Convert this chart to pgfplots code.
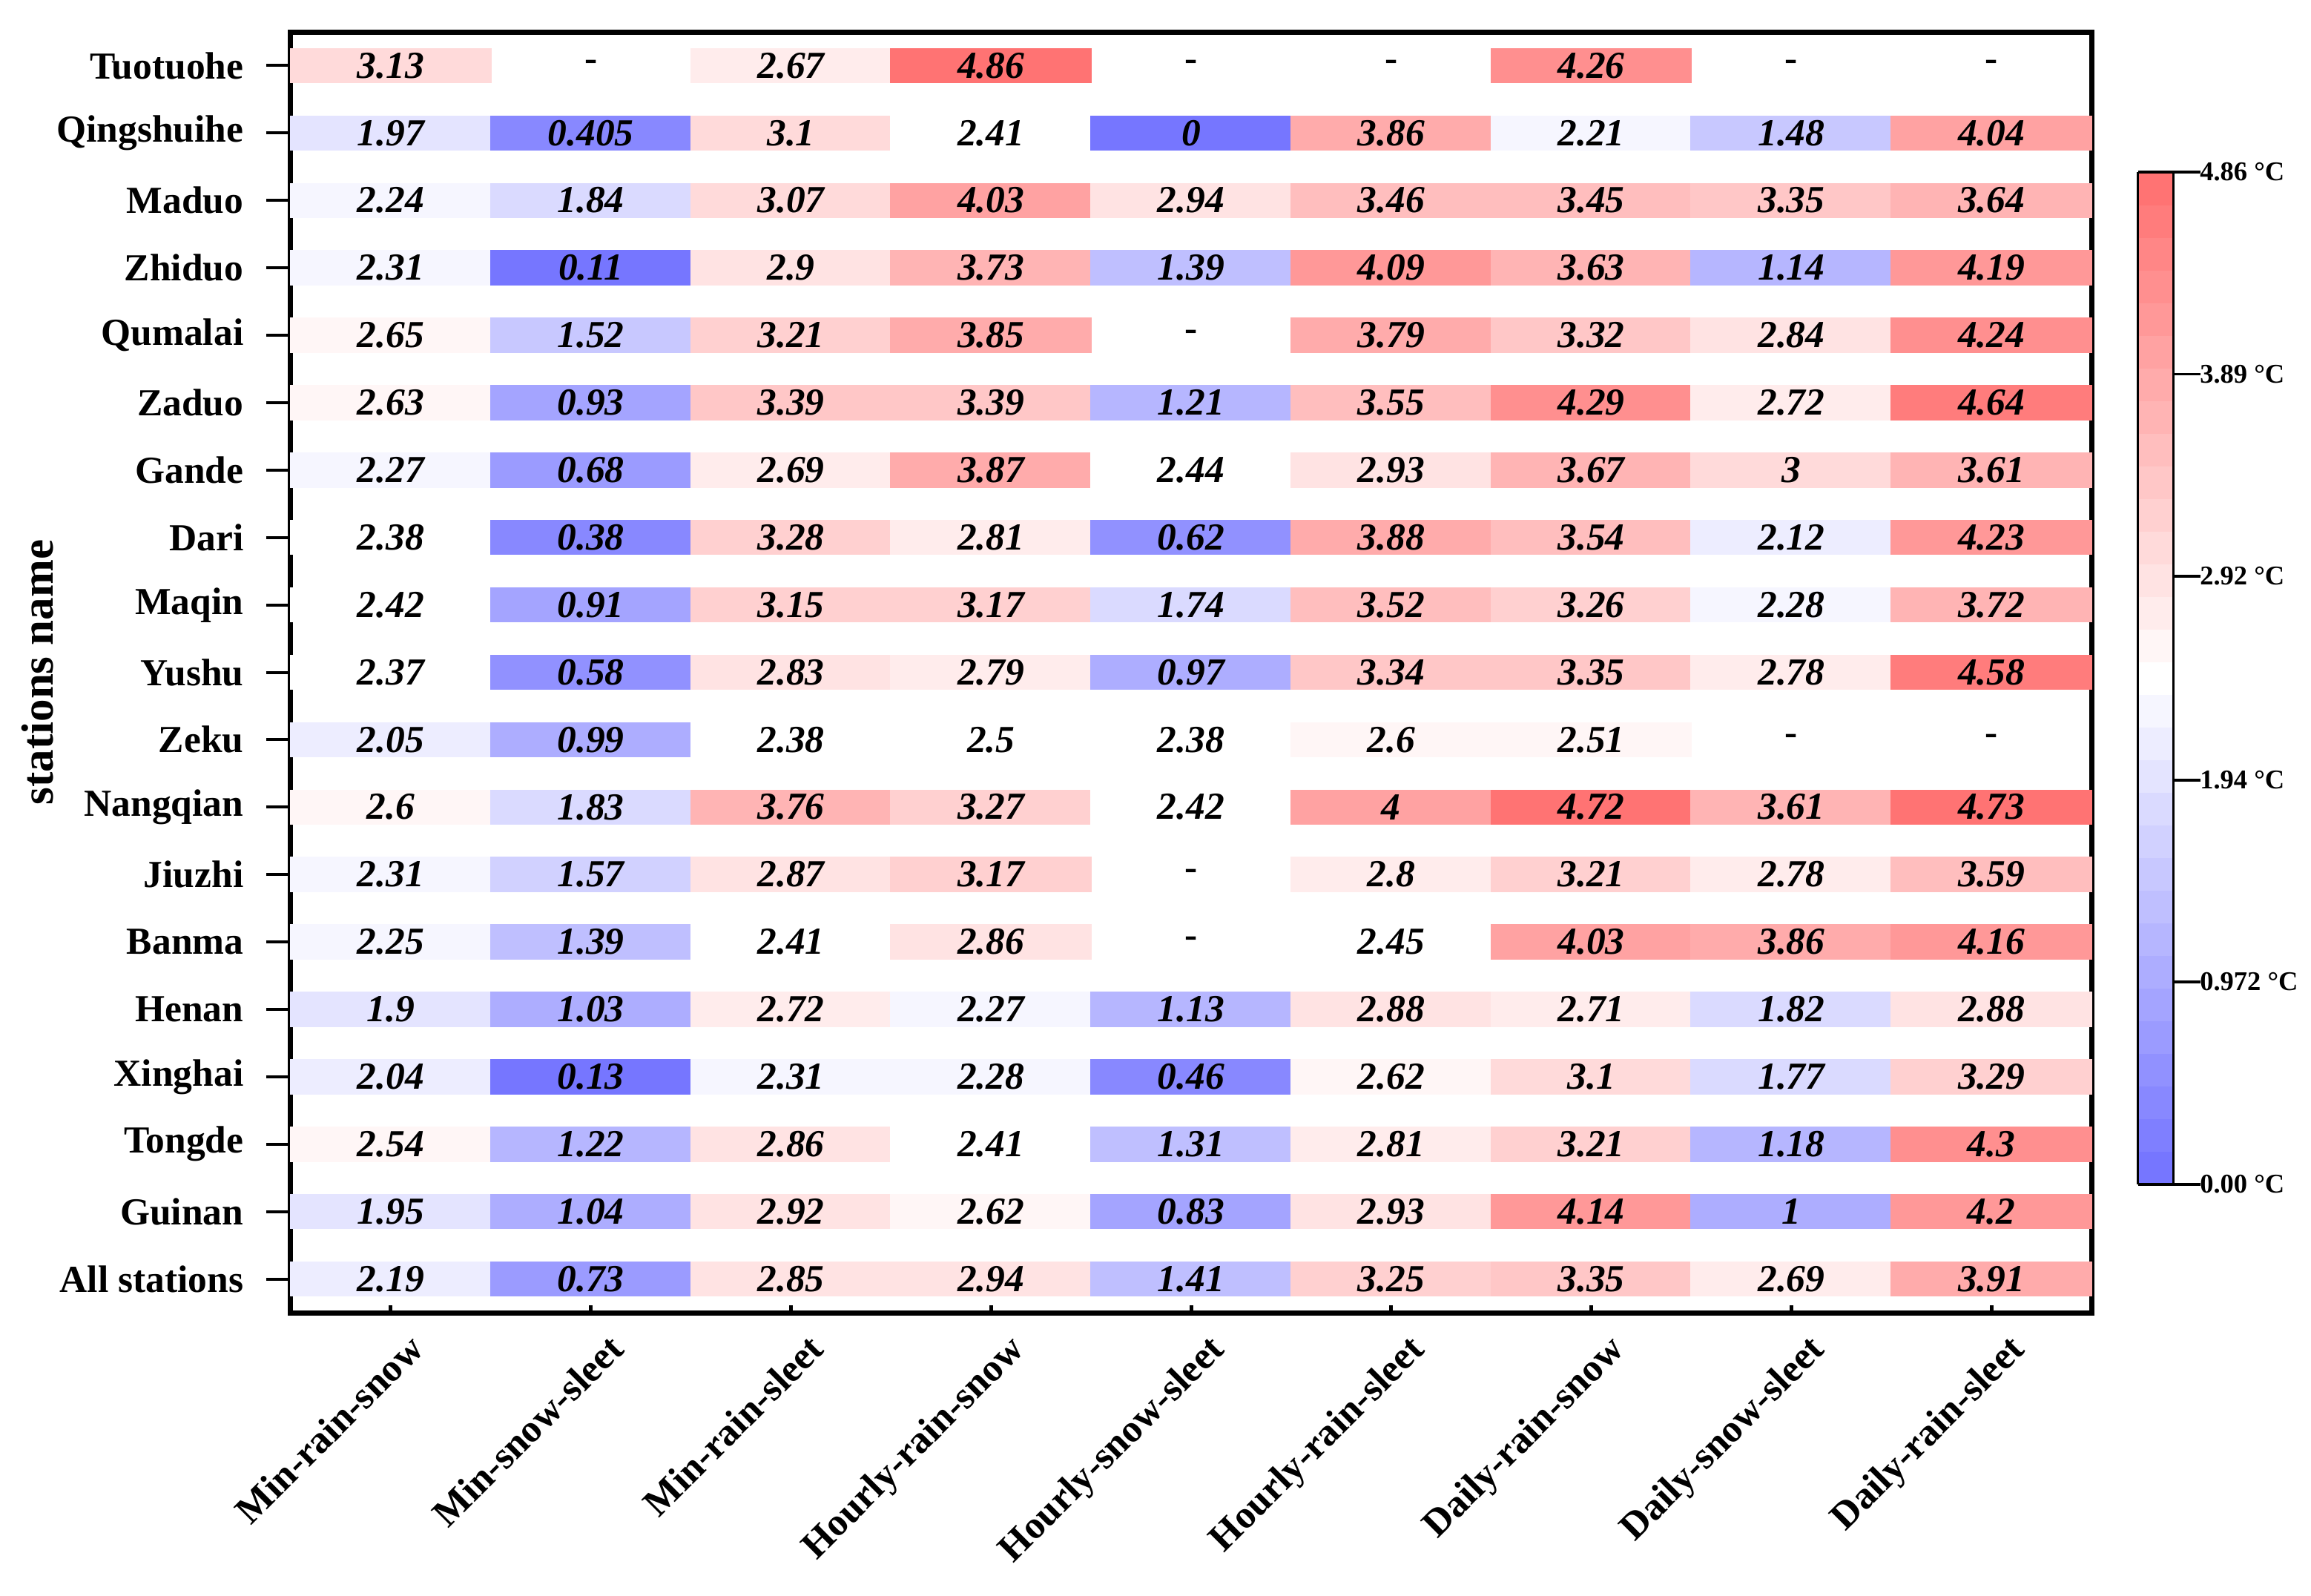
\documentclass[border=0pt]{standalone}
\usepackage{pgfplots}
\pgfplotsset{compat=1.18}
\usepackage{pgfplotstable}
\usepackage{fontspec}
\setmainfont{Liberation Serif}

% x = column (0..8), y = station (0 = Tuotuohe ... 18 = All stations), v = value
\pgfplotstableread{
x y v
0 0 3.13
2 0 2.67
3 0 4.86
6 0 4.26
0 1 1.97
1 1 0.405
2 1 3.1
3 1 2.41
4 1 0
5 1 3.86
6 1 2.21
7 1 1.48
8 1 4.04
0 2 2.24
1 2 1.84
2 2 3.07
3 2 4.03
4 2 2.94
5 2 3.46
6 2 3.45
7 2 3.35
8 2 3.64
0 3 2.31
1 3 0.11
2 3 2.9
3 3 3.73
4 3 1.39
5 3 4.09
6 3 3.63
7 3 1.14
8 3 4.19
0 4 2.65
1 4 1.52
2 4 3.21
3 4 3.85
5 4 3.79
6 4 3.32
7 4 2.84
8 4 4.24
0 5 2.63
1 5 0.93
2 5 3.39
3 5 3.39
4 5 1.21
5 5 3.55
6 5 4.29
7 5 2.72
8 5 4.64
0 6 2.27
1 6 0.68
2 6 2.69
3 6 3.87
4 6 2.44
5 6 2.93
6 6 3.67
7 6 3
8 6 3.61
0 7 2.38
1 7 0.38
2 7 3.28
3 7 2.81
4 7 0.62
5 7 3.88
6 7 3.54
7 7 2.12
8 7 4.23
0 8 2.42
1 8 0.91
2 8 3.15
3 8 3.17
4 8 1.74
5 8 3.52
6 8 3.26
7 8 2.28
8 8 3.72
0 9 2.37
1 9 0.58
2 9 2.83
3 9 2.79
4 9 0.97
5 9 3.34
6 9 3.35
7 9 2.78
8 9 4.58
0 10 2.05
1 10 0.99
2 10 2.38
3 10 2.5
4 10 2.38
5 10 2.6
6 10 2.51
0 11 2.6
1 11 1.83
2 11 3.76
3 11 3.27
4 11 2.42
5 11 4
6 11 4.72
7 11 3.61
8 11 4.73
0 12 2.31
1 12 1.57
2 12 2.87
3 12 3.17
5 12 2.8
6 12 3.21
7 12 2.78
8 12 3.59
0 13 2.25
1 13 1.39
2 13 2.41
3 13 2.86
5 13 2.45
6 13 4.03
7 13 3.86
8 13 4.16
0 14 1.9
1 14 1.03
2 14 2.72
3 14 2.27
4 14 1.13
5 14 2.88
6 14 2.71
7 14 1.82
8 14 2.88
0 15 2.04
1 15 0.13
2 15 2.31
3 15 2.28
4 15 0.46
5 15 2.62
6 15 3.1
7 15 1.77
8 15 3.29
0 16 2.54
1 16 1.22
2 16 2.86
3 16 2.41
4 16 1.31
5 16 2.81
6 16 3.21
7 16 1.18
8 16 4.3
0 17 1.95
1 17 1.04
2 17 2.92
3 17 2.62
4 17 0.83
5 17 2.93
6 17 4.14
7 17 1
8 17 4.2
0 18 2.19
1 18 0.73
2 18 2.85
3 18 2.94
4 18 1.41
5 18 3.25
6 18 3.35
7 18 2.69
8 18 3.91
}\cells

% cells with no value, shown as "-"
\pgfplotstableread{
x y
1 0
4 0
5 0
7 0
8 0
4 4
7 10
8 10
4 12
4 13
}\gaps

\pgfplotsset{
  colormap={bwr}{rgb255=(118,118,255) rgb255=(255,255,255) rgb255=(255,115,115)},
  colormap={bwrstep}{samples of colormap=(31 of bwr)},
}

\begin{document}
\begin{tikzpicture}
\begin{axis}[
  scale only axis, width=485.6pt, height=345.4pt,
  xmin=-0.5, xmax=8.5, ymin=-0.5, ymax=18.5, y dir=reverse,
  axis line style={line width=1.4pt},
  tick align=outside, major tick length=6.6pt,
  tick style={line width=0.8pt, black},
  ytick pos=left,
  xtick={0,...,8}, xtick style={draw=none},
  xticklabels={Min-rain-snow,Min-snow-sleet,Min-rain-sleet,Hourly-rain-snow,Hourly-snow-sleet,Hourly-rain-sleet,Daily-rain-snow,Daily-snow-sleet,Daily-rain-sleet},
  xticklabel style={rotate=45, anchor=north east, xshift=7.4pt, yshift=1.4pt, font=\bfseries\fontsize{10.4}{12}\selectfont},
  ytick={0,...,18},
  yticklabels={Tuotuohe,Qingshuihe,Maduo,Zhiduo,Qumalai,Zaduo,Gande,Dari,Maqin,Yushu,Zeku,Nangqian,Jiuzhi,Banma,Henan,Xinghai,Tongde,Guinan,All stations},
  yticklabel style={xshift=-2.6pt, font=\bfseries\fontsize{10.3}{12}\selectfont},
  ylabel={stations name},
  ylabel style={at={(axis description cs:-0.1405,0.5)}, anchor=center, font=\bfseries\fontsize{12.2}{14}\selectfont},
  colormap name=bwrstep, colormap access=piecewise constant,
  point meta min=0, point meta max=4.86,
  colorbar,
  colorbar style={
    at={(parent axis.north east)}, anchor=north west, xshift=4pt, yshift=-37.8pt,
    width=9.6pt, height=273pt,
    ytick={0,0.972,1.94,2.92,3.89,4.86},
    yticklabels={0.00 °C,0.972 °C,1.94 °C,2.92 °C,3.89 °C,4.86 °C},
    yticklabel style={xshift=-3.6pt, font=\bfseries\fontsize{7.3}{8}\selectfont},
    ytick pos=right, yticklabel pos=right,
    tick align=outside, major tick length=7.2pt,
    tick style={line width=0.7pt, black},
    axis line style={line width=0.7pt},
  },
]
% coloured cells
\addplot[scatter, only marks, mark=square*, mark size=26.98pt,
  mark options={yscale=0.1685},
  scatter/use mapped color={draw=mapped color, fill=mapped color},
  point meta=explicit,
] table[x=x, y=y, meta=v] {\cells};
% their values
\addplot[draw=none, mark=none, point meta=explicit,
  nodes near coords={\pgfmathprintnumber[precision=3,assume math mode=true]{\pgfplotspointmeta}},
  nodes near coords align=center,
  every node near coord/.append style={font=\bfseries\itshape\fontsize{10.3}{12}\selectfont, text=black},
] table[x=x, y=y, meta=v] {\cells};
% empty cells
\addplot[draw=none, mark=none,
  nodes near coords={-},
  nodes near coords align=center,
  every node near coord/.append style={font=\bfseries\fontsize{10.3}{12}\selectfont, text=black},
] table[x=x, y=y] {\gaps};
\end{axis}
% short inner ticks on the bottom edge
\begin{axis}[
  scale only axis, width=485.6pt, height=345.4pt,
  xmin=-0.5, xmax=8.5, ymin=0, ymax=1,
  axis x line*=bottom, hide y axis, x axis line style={draw=none},
  xtick={0,...,8}, xticklabels={},
  tick align=inside, major tick length=2pt,
  xtick style={line width=1pt, black},
]
\end{axis}
\pgfresetboundingbox
\useasboundingbox (-78.4pt,-76.4pt) rectangle (544.8pt,354pt);
\end{tikzpicture}
\end{document}
